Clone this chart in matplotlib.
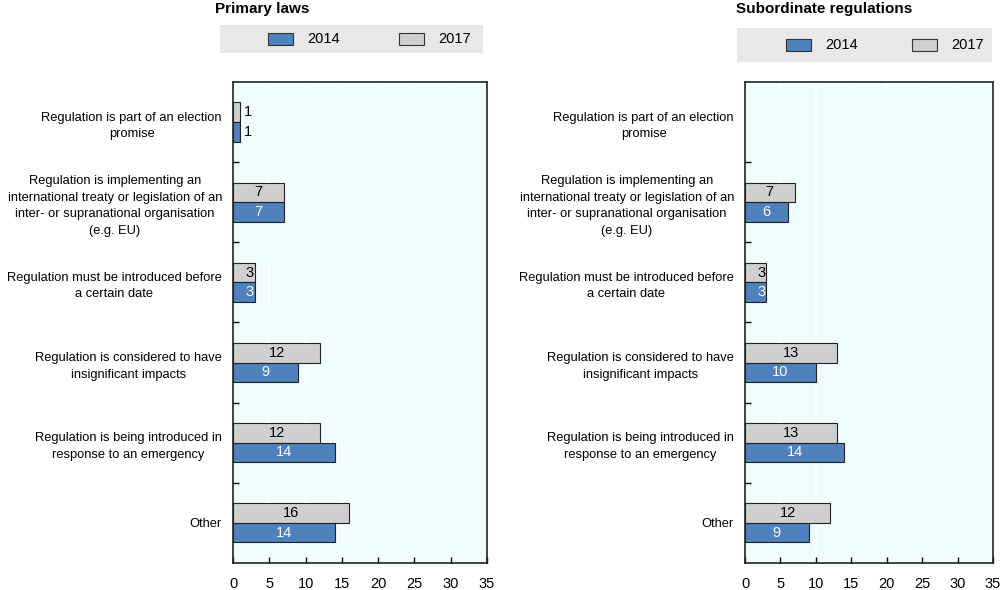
import numpy as np
import matplotlib
matplotlib.use('Agg')
import matplotlib.pyplot as plt
from matplotlib.patches import Rectangle

plt.rcParams['font.family'] = ['Liberation Sans', 'DejaVu Sans']

categories = ['Regulation is part of an election\npromise',
              'Regulation is implementing an\ninternational treaty or legislation of an\ninter- or supranational organisation\n(e.g. EU)',
              'Regulation must be introduced before\na certain date',
              'Regulation is considered to have\ninsignificant impacts',
              'Regulation is being introduced in\nresponse to an emergency',
              'Other']
primary_2014 = [1, 7, 3, 9, 14, 14]
primary_2017 = [1, 7, 3, 12, 12, 16]
subord_2014 = [np.nan, 6, 3, 10, 14, 9]
subord_2017 = [np.nan, 7, 3, 13, 13, 12]
years = ['2014', '2017']
x_ticks = [0, 5, 10, 15, 20, 25, 30, 35]

BLUE = '#4F81BD'
GREY = '#CFCFCF'
BG = '#F0FDFF'

fig = plt.figure(figsize=(10, 5.9), dpi=100)


def label_bar(ax, y, v, inside_color):
    if np.isnan(v):
        return
    if v >= 5:
        ax.text(v / 2, y, f'{v:g}', ha='center', va='center', color=inside_color, fontsize=10.5)
    elif v >= 2:
        ax.text(v - 0.15, y, f'{v:g}', ha='right', va='center', color=inside_color, fontsize=10.5)
    else:
        ax.text(v + 0.5, y, f'{v:g}', ha='left', va='center', color='black', fontsize=10.5)


def draw_panel(rect, v2014, v2017, title, title_x, title_y, leg):
    ax = fig.add_axes(rect)
    ax.set_facecolor(BG)
    y = np.arange(len(categories))
    h = 0.245
    ax.barh(y - h / 2, v2017, height=h, color=GREY, edgecolor='#222222', linewidth=0.8, zorder=3)
    ax.barh(y + h / 2, v2014, height=h, color=BLUE, edgecolor='#222222', linewidth=0.8, zorder=3)
    for yi, a, b in zip(y, v2014, v2017):
        label_bar(ax, yi - h / 2, b, 'black')
        label_bar(ax, yi + h / 2, a, 'white')
    ax.set_ylim(len(categories) - 0.5, -0.5)
    ax.set_xlim(0, 35)
    ax.set_xticks(x_ticks)
    ax.set_xticklabels([str(t) for t in x_ticks], fontsize=10.5)
    ax.set_yticks(y)
    labels = ax.set_yticklabels(categories, fontsize=9.3, multialignment='center')
    for t in labels:
        t.set_linespacing(1.5)
    ax.set_yticks(np.arange(0.5, len(categories) - 0.5, 1), minor=True)
    ax.tick_params(axis='y', which='major', length=0, pad=8)
    ax.tick_params(axis='y', which='minor', direction='in', length=4, width=1)
    ax.tick_params(axis='x', direction='in', length=4, width=1, pad=10)
    ax.xaxis.grid(True, color='white', linewidth=1.2, zorder=0)
    ax.set_axisbelow(True)
    for s in ax.spines.values():
        s.set_color('#222222')
        s.set_linewidth(1.2)
    fig.text(title_x, title_y, title, fontsize=11, fontweight='bold', ha='left', va='center')
    # legend box
    x0, y0, x1, y1, p1, p2 = leg
    fig.patches.append(Rectangle((x0 / 1000, 1 - y1 / 590), (x1 - x0) / 1000, (y1 - y0) / 590,
                                 transform=fig.transFigure, facecolor='#E8E8E8', edgecolor='none'))
    yc = 1 - (y0 + y1) / 2 / 590
    for px, col, lab in zip((p1, p2), (BLUE, GREY), years):
        fig.patches.append(Rectangle((px / 1000, yc - 5.5 / 590), 25 / 1000, 11 / 590,
                                     transform=fig.transFigure, facecolor=col,
                                     edgecolor='#333333', linewidth=0.8))
        fig.text((px + 39) / 1000, yc, lab, fontsize=10.5, ha='left', va='center')
    return ax


draw_panel([0.233, 0.046, 0.254, 0.815], primary_2014, primary_2017,
           'Primary laws', 0.215, 1 - 9 / 590, (220, 25, 483, 53, 268, 399))
draw_panel([0.745, 0.046, 0.248, 0.815], subord_2014, subord_2017,
           'Subordinate regulations', 0.736, 1 - 9 / 590, (737, 28, 992, 62, 786, 912))

fig.savefig('out.png', dpi=100)
